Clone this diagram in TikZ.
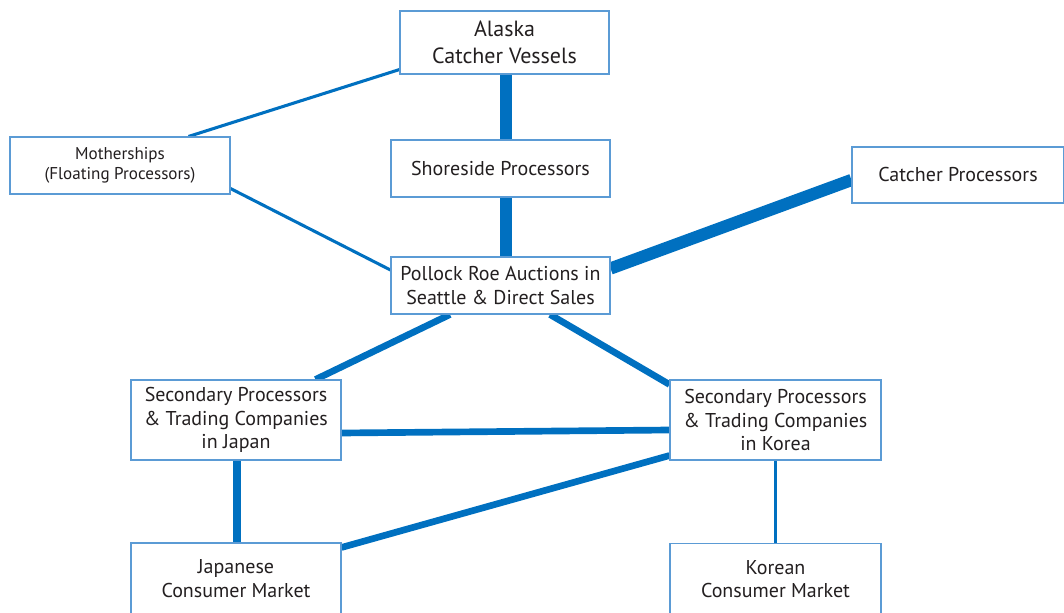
\documentclass[tikz,border=0pt]{standalone}
\usepackage{fontspec}
\setmainfont{PT Sans}
\usetikzlibrary{calc}
\definecolor{flow}{HTML}{0070C0}
\definecolor{frame}{HTML}{5B9BD5}
\definecolor{ink}{HTML}{231F20}
\pgfdeclarelayer{links}
\pgfsetlayers{links,main}
\begin{document}
\begin{tikzpicture}[x=0.75pt,y=-0.75pt,
  box/.style={draw=frame, line width=0.8pt, fill=white, align=center, text=ink, inner sep=0pt},
  mid/.style={font=\fontsize{15}{17.6}\selectfont},
  big/.style={font=\fontsize{16.5}{20.2}\selectfont},
  small/.style={font=\fontsize{12.8}{15}\selectfont},
  thin link/.style={draw=flow, line width=2.3pt},
  medium link/.style={draw=flow, line width=5pt},
  heavy link/.style={draw=flow, line width=9.2pt}]
\useasboundingbox (0,0) rectangle (1064,613);

% supply side
\node[box, big, minimum width=209*0.75pt, minimum height=63*0.75pt] (alaska) at (504.5,42.5) {Alaska\\Catcher Vessels};
\node[box, small, minimum width=220*0.75pt, minimum height=57*0.75pt] (moth) at (120,165.5) {Motherships\\(Floating Processors)};
\node[box, mid, minimum width=219*0.75pt, minimum height=57*0.75pt] (shore) at (500.5,168.5) {Shoreside Processors};
\node[box, mid, minimum width=212*0.75pt, minimum height=56*0.75pt] (cp) at (958,175) {Catcher Processors};
\node[box, mid, minimum width=219*0.75pt, minimum height=57*0.75pt] (roe) at (500.5,285.5) {Pollock Roe Auctions in\\Seattle \& Direct Sales};

% secondary processors
\node[box, mid, minimum width=210*0.75pt, minimum height=80*0.75pt] (jp) at (236,420) {Secondary Processors\\\& Trading Companies\\in Japan};
\node[box, mid, minimum width=211*0.75pt, minimum height=80*0.75pt] (kr) at (775.5,420) {Secondary Processors\\\& Trading Companies\\in Korea};

% consumer markets
\node[box, mid, minimum width=210*0.75pt, minimum height=71*0.75pt] (jpm) at (236,578.5) {Japanese\\Consumer Market};
\node[box, mid, minimum width=211*0.75pt, minimum height=71*0.75pt] (krm) at (775.5,579) {Korean\\Consumer Market};

\begin{pgfonlayer}{links}
  \draw[thin link] ($(alaska.south west)+(0,-5)$) -- ($(moth.north east)+(-42,0)$);
  \draw[thin link] ($(moth.south east)+(0,-6)$) -- ($(roe.west)+(0,-15.5)$);
  \draw[heavy link] ($(alaska.south)+(1.5,0)$) -- ($(shore.north)+(5.5,0)$);
  \draw[heavy link] ($(shore.south)+(5.5,0)$) -- ($(roe.north)+(5.5,0)$);
  \draw[heavy link] ($(cp.west)+(0,5)$) -- ($(roe.east)+(0,-17)$);
  \draw[medium link] ($(roe.south)+(-50.5,0)$) -- ($(jp.north east)+(-26,0)$);
  \draw[medium link] ($(roe.south)+(49.5,0)$) -- ($(kr.north west)+(0,5)$);
  \draw[medium link] ($(jp.east)+(0,13)$) -- ($(kr.west)+(0,10)$);
  \draw[medium link] ($(kr.south west)+(0,-5)$) -- ($(jpm.north east)+(0,5)$);
  \draw[draw=flow, line width=6pt] ($(jp.south)+(1,0)$) -- ($(jpm.north)+(1,0)$);
  \draw[draw=flow, line width=2.8pt] (kr.south) -- (krm.north);
\end{pgfonlayer}
\end{tikzpicture}
\end{document}
